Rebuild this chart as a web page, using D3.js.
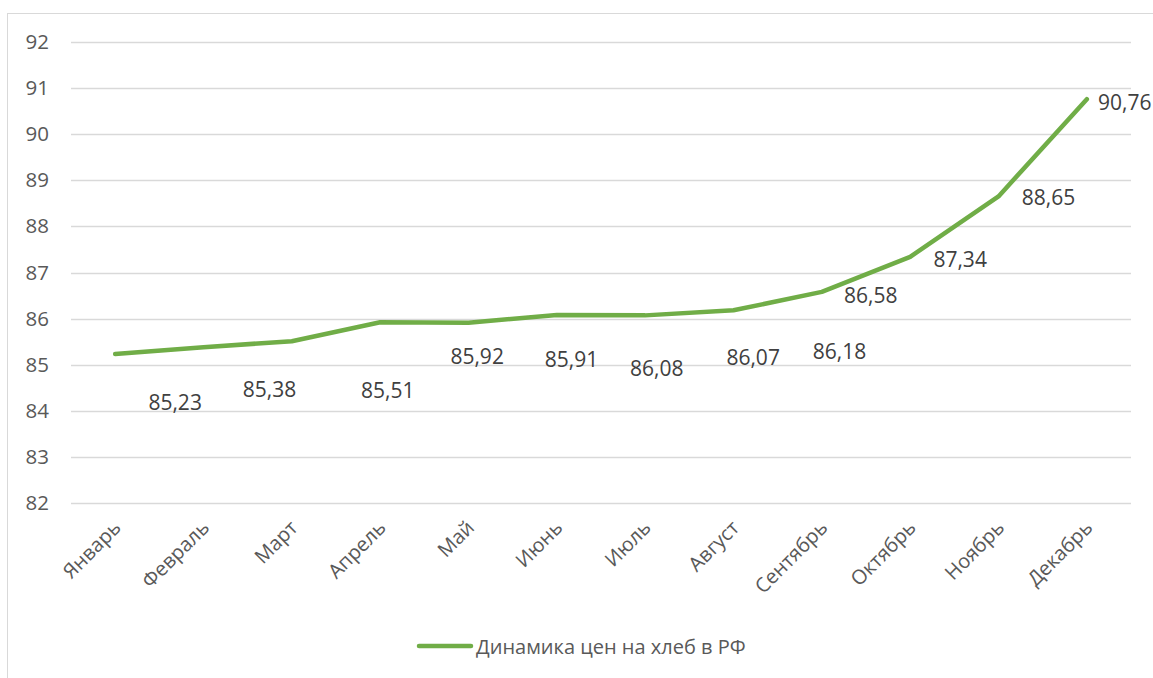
<!DOCTYPE html>
<html><head><meta charset="utf-8">
<script src="https://cdn.jsdelivr.net/npm/d3@7"></script>
<style>
body{margin:0;background:#fff;}
svg text{font-family:"Open Sans",sans-serif;}
</style></head>
<body><svg id="c" width="1153" height="678"></svg>
<script>
const categories = ["Январь","Февраль","Март","Апрель","Май","Июнь","Июль","Август","Сентябрь","Октябрь","Ноябрь","Декабрь"];
const values = [85.23,85.38,85.51,85.92,85.91,86.08,86.07,86.18,86.58,87.34,88.65,90.76];
const labels = ["85,23","85,38","85,51","85,92","85,91","86,08","86,07","86,18","86,58","87,34","88,65","90,76"];
const yTicks = [82,83,84,85,86,87,88,89,90,91,92];
const seriesName = "Динамика цен на хлеб в РФ";
// manual data-label offsets (layout, px) as placed in the original
const labelOffsets = [[60,48],[66,42],[96,49],[97,34],[103,36],[100,53],[108,42],[106,41],[49,3],[50,2],[50,1],[38,3]];

(function(){
const svg = d3.select("#c");
const pLeft = 71, pRight = 1131, pTop = 42, pBottom = 503;
const x = d3.scaleBand().domain(categories).range([pLeft, pRight]);
const y = d3.scaleLinear().domain([82, 92]).range([pBottom, pTop]);

// chart frame
svg.append("rect").attr("x",7.5).attr("y",13.5).attr("width",1160).attr("height",700)
  .attr("fill","none").attr("stroke","#d9d9d9").attr("stroke-width",1);

// gridlines
svg.append("g").selectAll("line").data(yTicks).join("line")
  .attr("x1",pLeft).attr("x2",pRight)
  .attr("y1",d=>Math.round(y(d))+0.5).attr("y2",d=>Math.round(y(d))+0.5)
  .attr("stroke","#d9d9d9").attr("stroke-width",1.3);

// y axis labels
const yAxis = d3.axisLeft(y).tickValues(yTicks).tickSize(0).tickPadding(0);
const gy = svg.append("g").attr("transform",`translate(49,0)`).call(yAxis);
gy.select(".domain").remove();
gy.selectAll("text").attr("font-size",20.5).attr("fill","#595959").attr("font-family","'Open Sans',sans-serif");

// x axis labels
const xAxis = d3.axisBottom(x).tickSize(0).tickPadding(0);
const gx = svg.append("g").call(xAxis);
gx.select(".domain").remove();
gx.selectAll("text")
  .attr("y",0).attr("dy",0)
  .attr("text-anchor","end")
  .attr("font-size",20).attr("fill","#595959").attr("font-family","'Open Sans',sans-serif")
  .attr("transform","translate(7,529) rotate(-45)");

// line
const cx = d => x(d) + x.bandwidth()/2;
const line = d3.line().x((d,i)=>cx(categories[i])).y(d=>y(d));
svg.append("path").datum(values).attr("d",line)
  .attr("fill","none").attr("stroke","#70ad47").attr("stroke-width",4.5)
  .attr("stroke-linejoin","round").attr("stroke-linecap","round");

// data labels
svg.append("g").selectAll("text").data(values).join("text")
  .attr("x",(d,i)=>cx(categories[i]) + labelOffsets[i][0])
  .attr("y",(d,i)=>y(d) + labelOffsets[i][1])
  .attr("text-anchor","middle").attr("dominant-baseline","central")
  .attr("font-size",21).attr("fill","#404040")
  .text((d,i)=>labels[i]);

// legend
const lg = svg.append("g");
lg.append("line").attr("x1",419).attr("x2",471).attr("y1",646).attr("y2",646)
  .attr("stroke","#70ad47").attr("stroke-width",4.5).attr("stroke-linecap","round");
lg.append("text").attr("x",476).attr("y",646).attr("dominant-baseline","central")
  .attr("font-size",20).attr("fill","#595959").text(seriesName);
})();
</script></body></html>
